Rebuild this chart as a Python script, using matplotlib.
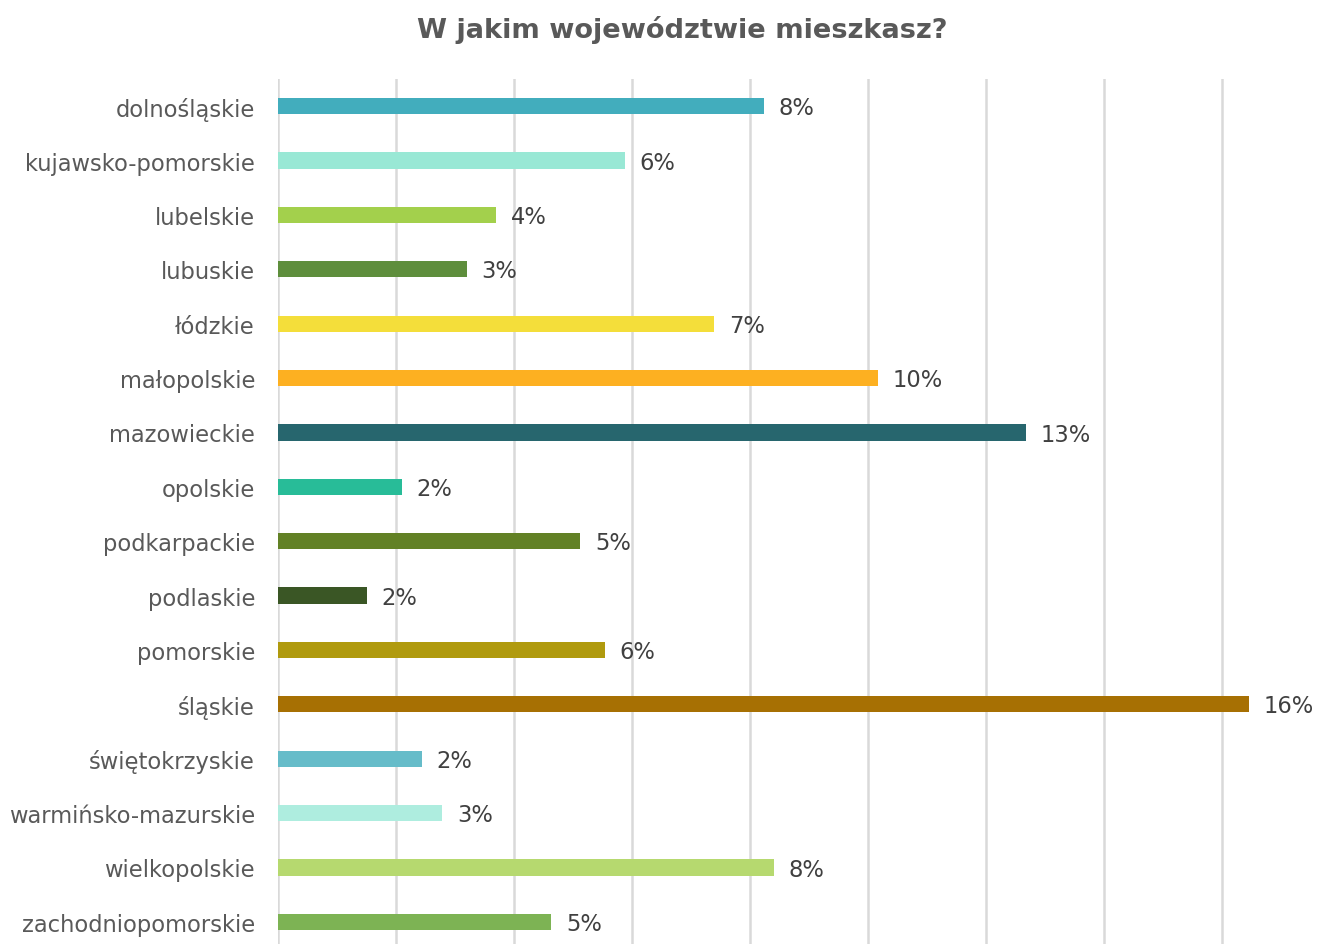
import matplotlib
matplotlib.use("Agg")
import matplotlib.pyplot as plt

categories = ["dolnośląskie", "kujawsko-pomorskie", "lubelskie", "lubuskie", "łódzkie",
              "małopolskie", "mazowieckie", "opolskie", "podkarpackie", "podlaskie",
              "pomorskie", "śląskie", "świętokrzyskie", "warmińsko-mazurskie",
              "wielkopolskie", "zachodniopomorskie"]
values = [8.24, 5.88, 3.69, 3.20, 7.39, 10.17, 12.68, 2.10, 5.12, 1.51,
          5.54, 16.46, 2.44, 2.78, 8.41, 4.63]
labels = ["8%", "6%", "4%", "3%", "7%", "10%", "13%", "2%", "5%", "2%",
          "6%", "16%", "2%", "3%", "8%", "5%"]
colors = ["#42ADBD", "#99E8D5", "#A3D04C", "#5E8E3C", "#F4DE3A", "#FDB021",
          "#27666E", "#28BC98", "#628125", "#3A5625", "#B09A0E", "#A77003",
          "#66BCC9", "#AEEDDF", "#B6D96F", "#7DB354"]
ticks = [0, 2, 4, 6, 8, 10, 12, 14, 16]

plt.rcParams['font.family'] = ['DejaVu Sans']

W, H = 1331, 945
fig = plt.figure(figsize=(W / 100, H / 100), dpi=100)
left, right = 278, 1310
top, bottom = 80, 950
ax = fig.add_axes([left / W, 1 - bottom / H, (right - left) / W, (bottom - top) / H])

y = list(range(len(categories)))
ax.barh(y, values, height=0.3, color=colors, zorder=3)
ax.set_ylim(len(categories) - 0.5, -0.5)
ax.set_xlim(0, (right - left) / 59.0)
ax.set_yticks(y)
ax.set_yticklabels(categories, fontsize=16.3, color="#595959")
ax.set_xticks(ticks)
ax.tick_params(axis='x', bottom=False, labelbottom=False)
ax.tick_params(axis='y', left=False, pad=13)
ax.grid(axis='x', color="#D9D9D9", linewidth=1.8, zorder=0)
for s in ax.spines.values():
    s.set_visible(False)

for yi, v, lab in zip(y, values, labels):
    ax.text(v + 0.25, yi + 0.03, lab, va='center', ha='left', fontsize=16.3, color="#404040")

fig.text(682 / W, 1 - 30 / H, "W jakim województwie mieszkasz?", ha='center', va='center',
         fontsize=19.6, fontweight='bold', color="#595959")

fig.savefig("out.png", dpi=100)
